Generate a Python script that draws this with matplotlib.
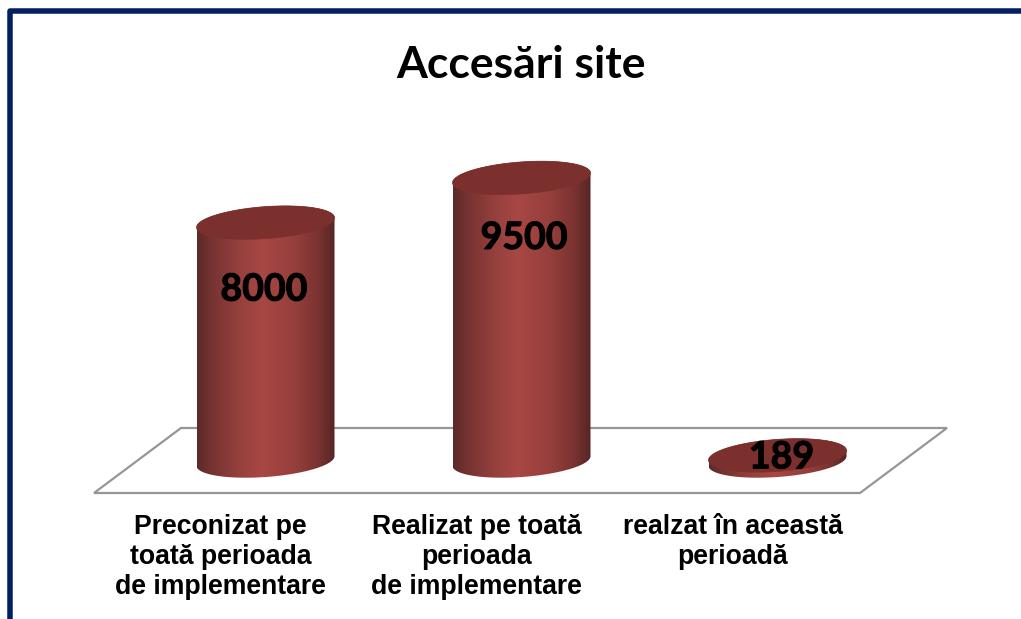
import numpy as np
import matplotlib
matplotlib.use('Agg')
import matplotlib.pyplot as plt
import matplotlib.patheffects as pe
from matplotlib.colors import LinearSegmentedColormap
from matplotlib.patches import Polygon
from matplotlib.lines import Line2D

# date
categories = ['Preconizat pe\ntoată perioada\nde implementare',
              'Realizat pe toată\nperioada\nde implementare',
              'realzat în această\nperioadă']
values = [8000, 9500, 189]
title = 'Accesări site'

W, H = 1021, 619
dpi = 100

# scara: pixeli pe categorie / pixeli pe unitate
px_cat = 256.0
px_val = 0.0298
x0_px = 265.5
y0_px = 461.0

fig = plt.figure(figsize=(W / dpi, H / dpi), dpi=dpi, facecolor='white')
ax = fig.add_axes([0, 0, 1, 1])
ax.axis('off')
xlim = (-x0_px / px_cat, (W - x0_px) / px_cat)
ylim = ((y0_px - H) / px_val, y0_px / px_val)


# din pixeli in coordonate grafic (doar pentru cadru si podea)
def dx(px):
    return px / px_cat


def dy(px):
    return px / px_val


def px2data(x, y):
    return (x - x0_px) / px_cat, (y0_px - y) / px_val


# podeaua 3D
floor = [px2data(94, 493), px2data(860, 493), px2data(947, 428), px2data(181, 428)]
ax.add_patch(Polygon(floor, closed=True, facecolor='white', edgecolor='#969696', lw=1.6, zorder=1))

cmap = LinearSegmentedColormap.from_list('cyl', [
    (0.0, '#5c2a29'), (0.12, '#783432'), (0.3, '#95403d'), (0.47, '#a84744'),
    (0.7, '#963f3c'), (0.88, '#7a3331'), (1.0, '#562523')])
grad = np.linspace(0, 1, 256).reshape(1, -1)

half_w = 69.0
half_h = 16.0
tilt = np.radians(4.0)
t = np.linspace(0, 2 * np.pi, 181)


def ellipse(i, v):
    xp = half_w * np.cos(t)
    # inclinat: dreapta mai sus
    yp = half_h * np.sin(t) + xp * np.tan(tilt)
    return i + dx(xp), v + dy(yp)


for i, v in enumerate(values):
    ex, ey = ellipse(i, v)
    low = t[(t >= 0) & (t <= np.pi)]
    # marginea de jos si cea de sus a corpului
    xs_b = half_w * np.cos(low)
    ys_b = -half_h * np.sin(low) + xs_b * np.tan(tilt)
    xs_t = half_w * np.cos(low)[::-1]
    ys_t = half_h * np.sin(low)[::-1] + xs_t * np.tan(tilt)
    body_x = np.concatenate([i + dx(xs_b), i + dx(xs_t)])
    body_y = np.concatenate([dy(ys_b), v + dy(ys_t)])
    body = Polygon(np.column_stack([body_x, body_y]), closed=True, facecolor='none', edgecolor='none')
    ax.add_patch(body)
    im = ax.imshow(grad, cmap=cmap, aspect='auto', zorder=2 + i * 0.1,
                   extent=(i - dx(half_w), i + dx(half_w), -dy(half_h + half_w * np.tan(tilt)),
                           v + dy(half_h + half_w * np.tan(tilt))))
    im.set_clip_path(body)
    ax.fill(ex, ey, color='#7b302e', lw=0.5, zorder=2.05 + i * 0.1)

ax.set_xlim(xlim)
ax.set_ylim(ylim)

# etichete valori (deplasare fata de capac, in pixeli)
label_dx = [-1.5, 2.5, 4]
label_dy = [-67, -60, -2]
for i, v in enumerate(values):
    ax.annotate(str(v), (i, v), xytext=(label_dx[i] * 72 / dpi, label_dy[i] * 72 / dpi),
                textcoords='offset points', ha='center', va='center', fontsize=27,
                fontweight='bold', family='Lato', color='black', zorder=5,
                path_effects=[pe.withStroke(linewidth=0.8, foreground='black')])

# etichete categorii
for i, c in enumerate(categories):
    ax.annotate(c, (i, 0), xytext=(-45 * 72 / dpi, -53 * 72 / dpi), textcoords='offset points',
                ha='center', va='top', fontsize=19.2, fontweight='bold', family='Liberation Sans',
                color='black', linespacing=1.21, zorder=5)

fig.text(521 / W, 1 - 65 / H, title, ha='center', va='center', fontsize=32, fontweight='bold',
         family='Lato', color='black')

# cadrul albastru
frame = Line2D([9.5 / W, 9.5 / W, 1.0], [0, 1 - 10.5 / H, 1 - 10.5 / H], transform=fig.transFigure,
               color='#002060', lw=5.5 * 72 / dpi, solid_joinstyle='round')
fig.add_artist(frame)

fig.savefig('out.png', dpi=dpi, facecolor='white')
